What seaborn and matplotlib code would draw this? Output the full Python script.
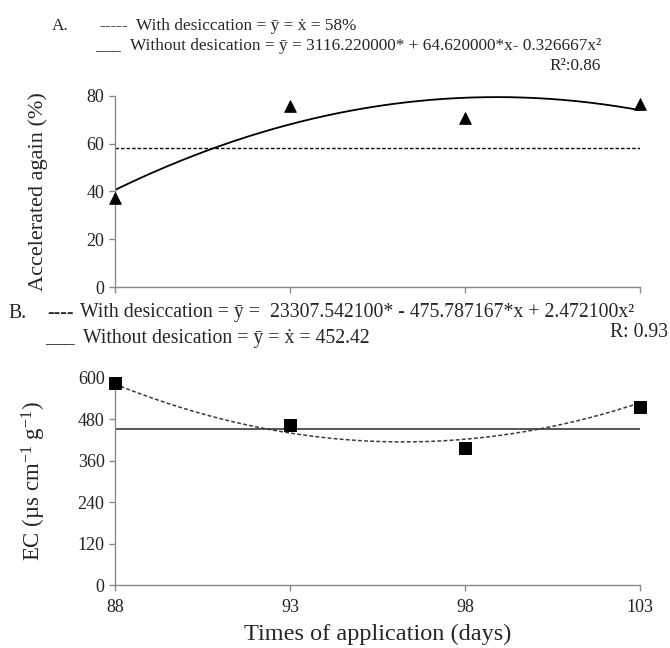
import matplotlib
matplotlib.use("Agg")
import matplotlib.pyplot as plt
import numpy as np
import pandas as pd
import seaborn as sns

# data
days = [88, 93, 98, 103]
acc_without = [37.2, 75.8, 70.9, 76.6]      # triangles, panel A
acc_with_mean = 58.0                         # dashed line, panel A
acc_fit = [-3116.22, 64.62, -0.326667]       # c0, c1, c2 of printed equation
ec_with = [586.0, 463.0, 398.0, 515.0]       # squares, panel B
ec_without_mean = 452.42                     # solid line, panel B
ec_fit = [23307.5421, -475.787167, 2.4721]

sns.set_theme(style="ticks")
plt.rcParams["font.family"] = ["Liberation Serif", "DejaVu Serif"]
plt.rcParams["mathtext.fontset"] = "custom"
plt.rcParams["mathtext.rm"] = "Liberation Serif"
plt.rcParams["mathtext.it"] = "Liberation Serif:italic"

SPINE = "#8a8a8a"

fig = plt.figure(figsize=(6.7, 6.48), dpi=100)
ax1 = fig.add_axes([0.1716, 0.557, 0.7836, 0.295])
ax2 = fig.add_axes([0.1716, 0.0972, 0.7836, 0.3195])

xs = np.linspace(days[0], days[-1], 200)

# panel A
fit_a = pd.DataFrame({"x": xs, "y": acc_fit[0] + acc_fit[1] * xs + acc_fit[2] * xs ** 2})
sns.lineplot(data=fit_a, x="x", y="y", ax=ax1, color="black", lw=1.3)
ax1.axhline(acc_with_mean, color="black", lw=1.0, ls=(0, (2.5, 1.5)))
sns.scatterplot(x=days, y=acc_without, ax=ax1, marker="^", s=70, color="black",
                edgecolor="black", clip_on=False, zorder=5)
ax1.set_xlim(88, 103)
ax1.set_ylim(0, 80)
ax1.set_xticks(days)
ax1.set_xticklabels([])
ax1.set_yticks([0, 20, 40, 60, 80])
ax1.set_ylabel("Accelerated again (%)", fontsize=16)
ax1.set_xlabel("")

# panel B
fit_b = pd.DataFrame({"x": xs, "y": ec_fit[0] + ec_fit[1] * xs + ec_fit[2] * xs ** 2})
sns.lineplot(data=fit_b, x="x", y="y", ax=ax2, color="#3a3a3a", lw=1.1, ls=(0, (2.5, 1.5)))
ax2.axhline(ec_without_mean, color="#3a3a3a", lw=1.2)
sns.scatterplot(x=days, y=ec_with, ax=ax2, marker="s", s=75, color="black",
                edgecolor="black", clip_on=False, zorder=5)
ax2.set_xlim(88, 103)
ax2.set_ylim(0, 600)
ax2.set_xticks(days)
ax2.set_yticks([0, 120, 240, 360, 480, 600])
ax2.set_ylabel("EC (µs cm$^{-1}$ g$^{-1}$)", fontsize=16.5)
ax2.set_xlabel("Times of application (days)", fontsize=17.5, labelpad=6)

for ax in (ax1, ax2):
    sns.despine(ax=ax)
    for s in ("left", "bottom"):
        ax.spines[s].set_color(SPINE)
        ax.spines[s].set_linewidth(1.0)
    ax.tick_params(axis="both", colors=SPINE, labelcolor="#222222",
                   labelsize=13, length=4, width=1.0)
    ax.tick_params(axis="x", pad=6)
    ax.yaxis.set_label_coords(-0.127, 0.5)

# equation headers
fs_a = 12.4
fig.text(52 / 670, 1 - 26 / 648, "A.", fontsize=fs_a, va="center")
fig.text(99 / 670, 1 - 26 / 648, "-----", fontsize=fs_a, va="center")
fig.text(136 / 670, 1 - 26 / 648, "With desiccation = ȳ = ẋ = 58%", fontsize=fs_a, va="center")
fig.text(95 / 670, 1 - 46 / 648, "___", fontsize=fs_a, va="center")
fig.text(130 / 670, 1 - 46 / 648,
         "Without desication = ȳ = 3116.220000* + 64.620000*x- 0.326667x²",
         fontsize=fs_a, va="center")
fig.text(601 / 670, 1 - 66 / 648, "R²:0.86", fontsize=fs_a, va="center", ha="right")

fs_b = 14.2
fig.text(8 / 670, 1 - 313 / 648, "B.", fontsize=fs_b, va="center")
fig.text(47 / 670, 1 - 313 / 648, "----", fontsize=fs_b, va="center")
fig.text(80 / 670, 1 - 313 / 648,
         "With desiccation = ȳ =  23307.542100* - 475.787167*x + 2.472100x²",
         fontsize=fs_b, va="center")
fig.text(45 / 670, 1 - 338 / 648, "___", fontsize=fs_b, va="center")
fig.text(83 / 670, 1 - 338 / 648, "Without desication = ȳ = ẋ = 452.42",
         fontsize=fs_b, va="center")
fig.text(668 / 670, 1 - 333 / 648, "R: 0.93", fontsize=fs_b, va="center", ha="right")

fig.savefig("out.png", dpi=100)
